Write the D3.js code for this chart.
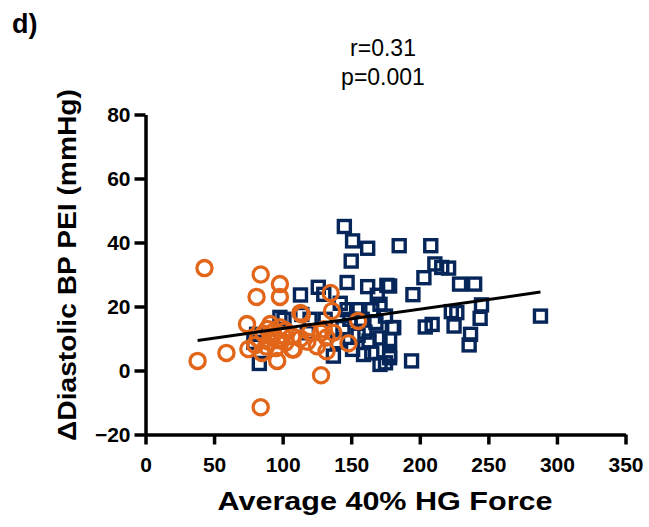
<!DOCTYPE html>
<meta charset="utf-8">
<title>Diastolic BP PEI vs HG force</title>
<style>
body { margin: 0; background: #fff; }
text { font-family: "Liberation Sans", Arial, sans-serif; }
</style>
<script src="https://d3js.org/d3.v7.min.js"></script>
<div id="chart"></div>
<script>

// orange circles (one group)
var orangeX = [43, 84, 98, 81, 98, 74, 91, 38, 59, 75, 84, 85, 96, 89, 107, 114, 107, 125, 128, 102,
               108, 130, 132, 132, 136, 135, 155, 148, 137, 128, 113, 82, 86, 90, 93, 96, 100, 88, 95, 102,
               80, 92, 98, 113, 120, 118];
var orangeY = [32, 30, 27, 23, 23, 14.5, 14.5, 3, 5.5, 6.7, -11.5, 5.5, 3, 13, 6.6, 17.5, 10.7, 7.6, -1.5, 8.7,
               6.6, 12.9, 10.3, 6, 18.6, 24.2, 15.5, 8.5, 11.8, 11.8, 18, 10, 11.5, 9, 12, 9.5, 11, 7.5, 7, 12.5,
               8, 10.5, 13.5, 10, 12, 9];

// navy squares (other group)
var navyX = [145, 151, 162, 150, 185, 208, 211, 216, 221, 203, 229, 240, 195, 147, 162, 176, 169, 126, 113, 130,
             245, 227, 244, 204, 209, 225, 237, 236, 194, 175, 165, 181, 171, 288, 178, 180, 178, 223, 137, 151,
             149, 147, 154, 144, 163, 171, 178, 159, 178, 171, 98, 114, 83, 79, 101, 118, 81, 160, 168, 175,
             158, 165, 155, 140, 142, 120, 131];
var navyY = [45, 40.5, 38.2, 34.2, 39, 39, 33.3, 32.2, 32, 29, 27, 27, 23.7, 27.5, 26.2, 26.6, 23.5, 26, 23.6, 23.8,
             20.5, 18.1, 16.3, 13.6, 14.4, 13.9, 11.3, 8, 3, 2.4, 5.5, 13.4, 20.7, 17, 26.4, 13.4, 4, 18.4, 4.5, 6.6,
             16, 19, 19, 13.4, 9.2, 10.2, 9.7, 5, 5, 1.9, 16.6, 17.5, 2.2, 8.8, 16, 11.8, 11.3, 12, 15, 17,
             16, 19, 11, 9, 21, 16, 16];

// regression line end points
var fitX = [38, 288];
var fitY = [9.4, 24.5];

var xTicks = [0, 50, 100, 150, 200, 250, 300, 350];
var yTicks = [-20, 0, 20, 40, 60, 80];

var width = 649,
    height = 527;

var svg = d3.select("#chart").append("svg")
    .attr("width", width)
    .attr("height", height);

var x = d3.scaleLinear().domain([0, 350]).range([145.5, 625.5]);
var y = d3.scaleLinear().domain([-20, 80]).range([434.5, 114.5]);

var orange = "#E2661A",
    navy = "#06265A";

// points
svg.append("g").selectAll("rect")
    .data(d3.range(navyX.length))
    .enter().append("rect")
    .attr("x", function(i) { return x(navyX[i]) - 6; })
    .attr("y", function(i) { return y(navyY[i]) - 6; })
    .attr("width", 12)
    .attr("height", 12)
    .attr("fill", "none")
    .attr("stroke", navy)
    .attr("stroke-width", 3.4);

svg.append("g").selectAll("circle")
    .data(d3.range(orangeX.length))
    .enter().append("circle")
    .attr("cx", function(i) { return x(orangeX[i]); })
    .attr("cy", function(i) { return y(orangeY[i]); })
    .attr("r", 7.6)
    .attr("fill", "none")
    .attr("stroke", orange)
    .attr("stroke-width", 3.3);

svg.append("line")
    .attr("x1", x(fitX[0])).attr("y1", y(fitY[0]))
    .attr("x2", x(fitX[1])).attr("y2", y(fitY[1]))
    .attr("stroke", "#000")
    .attr("stroke-width", 3);

// axes
var xAxis = svg.append("g")
    .attr("transform", "translate(0," + y(-20) + ")")
    .call(d3.axisBottom(x).tickValues(xTicks).tickSize(10).tickSizeOuter(0).tickPadding(13));

var yAxis = svg.append("g")
    .attr("transform", "translate(" + x(0) + ",0)")
    .call(d3.axisLeft(y).tickValues(yTicks).tickSize(11).tickSizeOuter(0).tickPadding(4));

[xAxis, yAxis].forEach(function(a) {
  a.selectAll(".domain").attr("stroke-width", 3.5);
  a.selectAll(".tick line").attr("stroke-width", 3.5);
  a.selectAll(".tick text")
      .attr("font-family", "'Liberation Sans', Arial, sans-serif")
      .attr("font-size", 21)
      .attr("font-weight", "bold")
      .attr("fill", "#000");
});

// titles
svg.append("text")
    .attr("x", 385)
    .attr("y", 510)
    .attr("text-anchor", "middle")
    .attr("font-size", 26)
    .attr("font-weight", "bold")
    .attr("textLength", 335)
    .attr("lengthAdjust", "spacingAndGlyphs")
    .text("Average 40% HG Force");

svg.append("text")
    .attr("transform", "translate(76,265) rotate(-90)")
    .attr("text-anchor", "middle")
    .attr("font-size", 26)
    .attr("font-weight", "bold")
    .attr("textLength", 352)
    .attr("lengthAdjust", "spacingAndGlyphs")
    .text("\u0394Diastolic BP PEI (mmHg)");

svg.append("text")
    .attr("x", 12)
    .attr("y", 33)
    .attr("font-size", 27)
    .attr("font-weight", "bold")
    .text("d)");

svg.append("text")
    .attr("x", 383)
    .attr("y", 56)
    .attr("text-anchor", "middle")
    .attr("font-size", 23)
    .text("r=0.31");

svg.append("text")
    .attr("x", 383)
    .attr("y", 85)
    .attr("text-anchor", "middle")
    .attr("font-size", 23)
    .text("p=0.001");

</script>
